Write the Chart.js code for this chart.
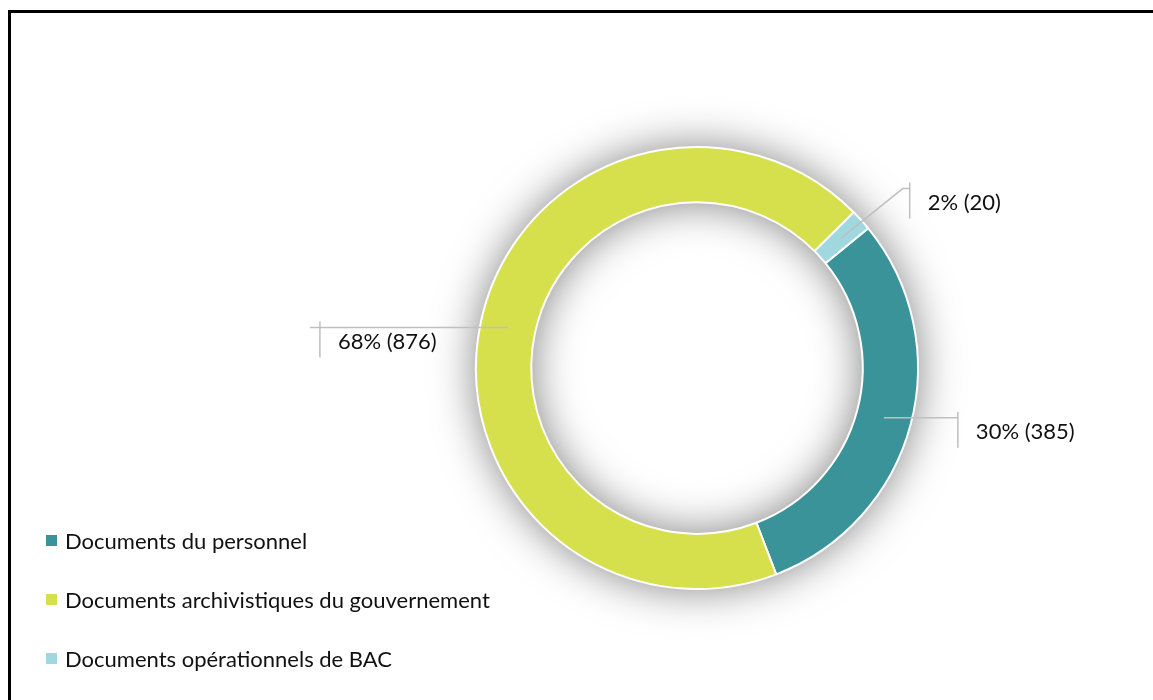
<!DOCTYPE html>
<html lang="fr">
<head>
<meta charset="utf-8">
<title>Documents</title>
<script src="https://cdn.jsdelivr.net/npm/chart.js@4.4.1/dist/chart.umd.min.js"></script>
<style>
  html, body { margin: 0; padding: 0; background: #fff; }
  body { width: 1153px; height: 700px; position: relative; overflow: hidden; font-family: Lato, 'Open Sans', sans-serif; }
  canvas { position: absolute; left: 0; top: 0; }
  #frame { position: absolute; left: 8px; top: 10px; right: -10px; bottom: -10px; border-left: 3px solid #000; border-top: 3px solid #000; pointer-events: none; }
  #legend { position: absolute; left: 46px; top: 511px; margin: 0; padding: 0; list-style: none; }
  #legend li { display: flex; align-items: center; height: 59px; font-size: 22px; color: #111; white-space: nowrap; }
  #legend span.box { display: inline-block; width: 11px; height: 11px; margin-right: 8px; }
</style>
</head>
<body>
<canvas id="chart" width="1153" height="700"></canvas>
<ul id="legend"></ul>
<div id="frame"></div>
<script>
// data
const categories = [
  'Documents du personnel',
  'Documents archivistiques du gouvernement',
  'Documents opérationnels de BAC'
]
const counts = [385, 876, 20]
const sliceColors = ['#3a9399', '#d5e04c', '#a0d8e0']

// leader lines: points relative to the slice anchor, then the tick top
const labelLayout = [
  { line: [[0, 0], [74, 0]], tick: [74, -6] },
  { line: [[0, 0], [-198, 0]], tick: [-188, -6] },
  { line: [[0, 0], [62, -50], [69, -50]], tick: [69, -56] }
]

const total = counts.reduce((a, b) => a + b, 0)

// legend
const legend = document.getElementById('legend')
categories.forEach((name, i) => {
  const li = document.createElement('li')
  li.innerHTML = '<span class="box" style="background:' + sliceColors[i] + '"></span>' + name
  legend.appendChild(li)
})

const ringShadow = {
  id: 'ringShadow',
  beforeDatasetsDraw(chart) {
    const arc = chart.getDatasetMeta(0).data[0]
    const ctx = chart.ctx
    ctx.save()
    ctx.beginPath()
    ctx.arc(arc.x, arc.y, arc.outerRadius, 0, Math.PI * 2)
    ctx.arc(arc.x, arc.y, arc.innerRadius, Math.PI * 2, 0, true)
    ctx.closePath()
    ctx.shadowColor = 'rgba(0, 0, 0, 0.5)'
    ctx.shadowBlur = 44
    ctx.fillStyle = '#fff'
    ctx.fill('evenodd')
    ctx.restore()
  }
}

const leaderLabels = {
  id: 'leaderLabels',
  afterDatasetsDraw(chart) {
    const ctx = chart.ctx
    const meta = chart.getDatasetMeta(0)
    ctx.save()
    ctx.strokeStyle = '#bfbfbf'
    ctx.lineWidth = 1.5
    ctx.fillStyle = '#111'
    ctx.font = '22px Lato, "Open Sans", sans-serif'
    ctx.textBaseline = 'middle'
    ctx.textAlign = 'left'
    meta.data.forEach((arc, i) => {
      const mid = (arc.startAngle + arc.endAngle) / 2
      const r = (arc.innerRadius + arc.outerRadius) / 2
      const ax = arc.x + Math.cos(mid) * r
      const ay = arc.y + Math.sin(mid) * r
      const lay = labelLayout[i]
      ctx.beginPath()
      lay.line.forEach(([dx, dy], k) => {
        if (k === 0) ctx.moveTo(ax + dx, ay + dy)
        else ctx.lineTo(ax + dx, ay + dy)
      })
      ctx.stroke()
      const tx = ax + lay.tick[0]
      const ty = ay + lay.tick[1]
      ctx.beginPath()
      ctx.moveTo(tx, ty)
      ctx.lineTo(tx, ty + 36)
      ctx.stroke()
      const pct = Math.round(counts[i] / total * 100)
      ctx.fillText(pct + '% (' + counts[i] + ')', tx + 18, ty + 20)
    })
    ctx.restore()
  }
}

/* eslint-disable no-magic-numbers, no-new */
new Chart(document.getElementById('chart'), {
  type: 'doughnut',
  data: {
    labels: categories,
    datasets: [{
      data: counts,
      backgroundColor: sliceColors,
      borderColor: '#fff',
      borderWidth: 2,
      hoverOffset: 0
    }]
  },
  options: {
    responsive: false,
    animation: false,
    events: [],
    radius: 221,
    cutout: '75%',
    rotation: 50.8,
    layout: {
      padding: { left: 300, right: 59, top: 100, bottom: 64 }
    },
    plugins: {
      legend: { display: false },
      tooltip: { enabled: false }
    }
  },
  plugins: [ringShadow, leaderLabels]
})
/* eslint-enable no-magic-numbers, no-new */
</script>
</body>
</html>
